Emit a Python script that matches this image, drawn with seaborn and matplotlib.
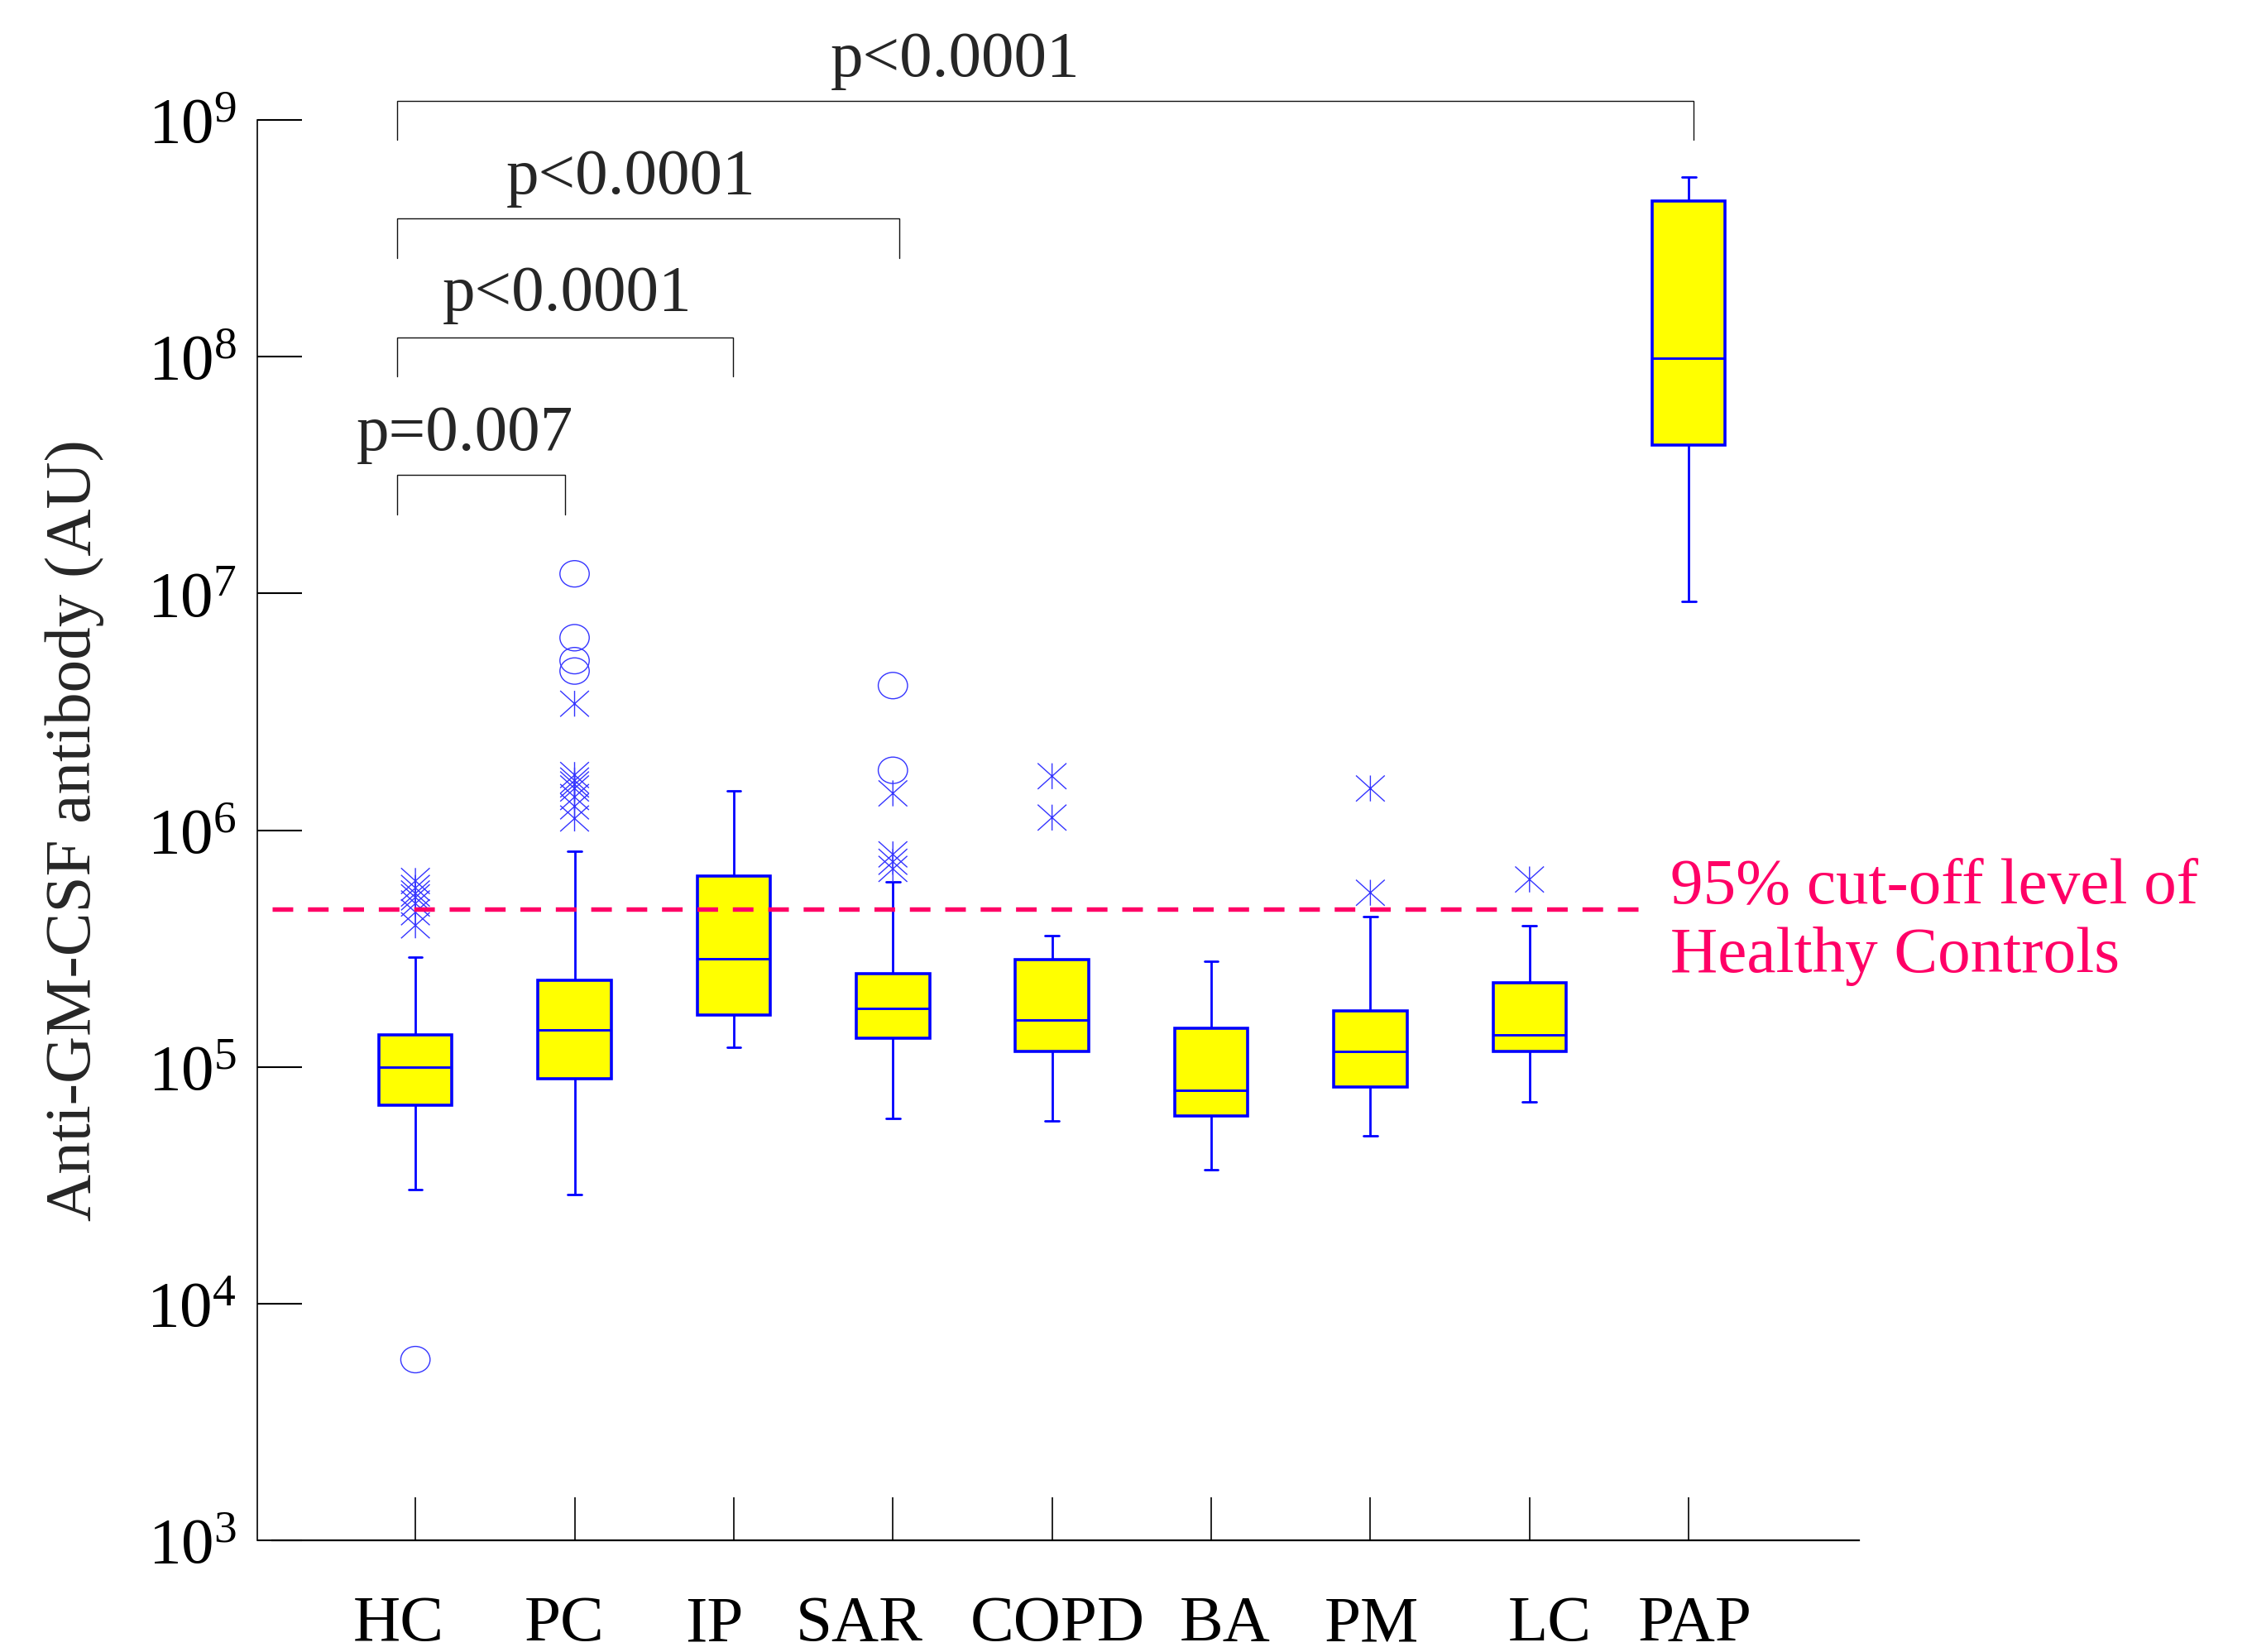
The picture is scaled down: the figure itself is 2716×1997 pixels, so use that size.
import numpy as np
import pandas as pd
import matplotlib
matplotlib.use("Agg")
import matplotlib.pyplot as plt
import seaborn as sns
from matplotlib.path import Path
from matplotlib.transforms import ScaledTranslation
from matplotlib.ticker import LogLocator, NullLocator

# ---------------- data ----------------
categories = ["HC", "PC", "IP", "SAR", "COPD", "BA", "PM", "LC", "PAP"]
whisker_low = [3.04e4, 2.9e4, 1.21e5, 6.07e4, 5.93e4, 3.68e4, 5.1e4, 7.1e4, 9.28e6]
q1 = [6.9e4, 8.9e4, 1.66e5, 1.32e5, 1.16e5, 6.2e4, 8.2e4, 1.16e5, 4.25e7]
median = [1.0e5, 1.43e5, 2.87e5, 1.76e5, 1.58e5, 7.94e4, 1.16e5, 1.37e5, 9.84e7]
q3 = [1.37e5, 2.33e5, 6.4e5, 2.47e5, 2.85e5, 1.46e5, 1.72e5, 2.26e5, 4.56e8]
whisker_high = [2.9e5, 8.15e5, 1.46e6, 6.03e5, 3.58e5, 2.8e5, 4.3e5, 3.95e5, 5.74e8]

# outliers drawn as circles (far outliers)
circle_groups = ["HC", "PC", "PC", "PC", "PC", "SAR", "SAR"]
circle_values = [5.8e3, 1.21e7, 6.5e6, 5.2e6, 4.7e6, 4.08e6, 1.79e6]

# outliers drawn as asterisks
star_groups = (["HC"] * 7 + ["PC"] * 8 + ["SAR"] * 4 + ["COPD"] * 2 + ["PM"] * 2 + ["LC"])
star_values = [6.1e5, 5.7e5, 5.4e5, 5.2e5, 4.9e5, 4.5e5, 3.96e5,
               3.42e6, 1.71e6, 1.62e6, 1.56e6, 1.50e6, 1.38e6, 1.26e6, 1.12e6,
               1.43e6, 7.9e5, 7.35e5, 6.86e5,
               1.69e6, 1.13e6,
               1.5e6, 5.44e5,
               6.19e5]

cutoff_value = 4.64e5
cutoff_label = "95% cut-off level of\nHealthy Controls"

# significance brackets (all start at HC)
bracket_right = ["PC", "IP", "SAR", "PAP"]
bracket_labels = ["p=0.007", "p<0.0001", "p<0.0001", "p<0.0001"]
bracket_top = [3.16e7, 1.205e8, 3.83e8, 1.208e9]
bracket_text_y = [4.05e7, 1.567e8, 4.875e8, 1.531e9]

ylabel = "Anti-GM-CSF antibody (AU)"

# ---------------- style ----------------
BLUE = "#0000FF"
MARK = "#3535FF"
YELLOW = "#FFFF00"
PINK = "#FF0066"
FS = 57

sns.set_style("white")
plt.rcParams["font.family"] = ["Liberation Serif", "DejaVu Serif"]
plt.rcParams["mathtext.fontset"] = "custom"
plt.rcParams["mathtext.rm"] = "Liberation Serif"
plt.rcParams["mathtext.default"] = "regular"

fig = plt.figure(figsize=(27.16, 19.97), dpi=100)
ax = fig.add_axes([0.12113, 0.06760, 0.70619, 0.85979])

# ---------------- boxes ----------------
box_df = pd.DataFrame({
    "group": np.repeat(categories, 5),
    "value": np.column_stack([whisker_low, q1, median, q3, whisker_high]).ravel(),
})
sns.boxplot(data=box_df, x="group", y="value", order=categories, log_scale=True,
            whis=(0, 100), width=0.46, color=YELLOW, saturation=1,
            linecolor=BLUE, linewidth=2.0, fliersize=0, capwidths=0.087,
            boxprops=dict(linewidth=2.6), medianprops=dict(linewidth=2.1),
            ax=ax)

# ---------------- outliers ----------------
circ = Path.unit_circle()
ellipse_marker = Path(circ.vertices * np.array([1.0, 0.9]), circ.codes)
star_marker = Path(
    [(-1, -0.9), (1, 0.9), (-1, 0.9), (1, -0.9), (0, -0.9), (0, 0.9)],
    [Path.MOVETO, Path.LINETO, Path.MOVETO, Path.LINETO, Path.MOVETO, Path.LINETO],
)

def hollow_strip(groups, values, marker, size):
    n0 = len(ax.collections)
    df = pd.DataFrame({"group": groups, "value": values})
    sns.stripplot(data=df, x="group", y="value", order=categories, jitter=False,
                  marker=marker, size=size, color=MARK, log_scale=True, ax=ax)
    for c in ax.collections[n0:]:
        c.set_facecolor("none")
        c.set_edgecolor(MARK)
        c.set_linewidth(1.0)
        c.set_zorder(3)

hollow_strip(circle_groups, circle_values, ellipse_marker, 25.5)
hollow_strip(star_groups, star_values, star_marker, 25)

# ---------------- axes ----------------
ax.set_yscale("log")
ax.set_ylim(1e3, 1e9)
ax.set_xlim(-0.90, 9.07)
ax.yaxis.set_major_locator(LogLocator(base=10, numticks=20))
ax.yaxis.set_minor_locator(NullLocator())
ax.set_xticks(range(len(categories)))
ax.set_xticklabels(categories)
ax.set_xlabel("")
ax.xaxis.label.set_visible(False)
ax.xaxis.get_offset_text().set_visible(False)
ax.yaxis.get_offset_text().set_visible(False)
ax.set_ylabel(ylabel, fontsize=FS)
ax.yaxis.set_label_coords(-0.106, 0.5)

for s in ["top", "right"]:
    ax.spines[s].set_visible(False)
ax.spines["left"].set_position(("outward", 13))
ax.spines["left"].set_linewidth(1.2)
ax.spines["left"].set_color("black")
ax.spines["bottom"].set_linewidth(1.6)
ax.spines["bottom"].set_color("black")

ax.tick_params(axis="x", direction="in", length=37.4, width=1.2, pad=48,
               labelsize=FS, colors="black", bottom=True, top=False)
ax.tick_params(axis="y", direction="in", length=39, width=1.5, pad=18,
               labelsize=FS, colors="black", left=True, right=False)

label_shift_px = [-20, -12, -24, -41, 7, 17, 2, 24, 8]
for lab, dx in zip(ax.get_xticklabels(), label_shift_px):
    lab.set_transform(lab.get_transform() + ScaledTranslation(dx / 100, 0, fig.dpi_scale_trans))

# ---------------- cut-off line ----------------
ax.axhline(cutoff_value, xmin=0, xmax=0.862, color=PINK, lw=3.9,
           dashes=(4.6, 3.3), dash_capstyle="butt", zorder=6)
# va="baseline" on multi-line text anchors the last line's baseline
ax.text(7.884, 2.52e5, cutoff_label, color=PINK, fontsize=FS, ha="left",
        va="baseline", linespacing=1.2, clip_on=False)

# ---------------- significance brackets ----------------
text_x = [0.31, 0.956, 1.352, 3.39]
right_adj = [-0.061, -0.007, 0.04, 0.03]
leg = 10 ** -0.166
for name, lab, top, ty, tx, adj in zip(bracket_right, bracket_labels, bracket_top,
                                       bracket_text_y, text_x, right_adj):
    x0 = -0.114
    x1 = categories.index(name) + adj
    ax.plot([x0, x0, x1, x1], [top * leg, top, top, top * leg], color="#111111",
            lw=1.0, clip_on=False, solid_joinstyle="miter")
    ax.text(tx, ty, lab, fontsize=FS, ha="center", va="baseline", clip_on=False)

fig.savefig("out.png", dpi=100)
